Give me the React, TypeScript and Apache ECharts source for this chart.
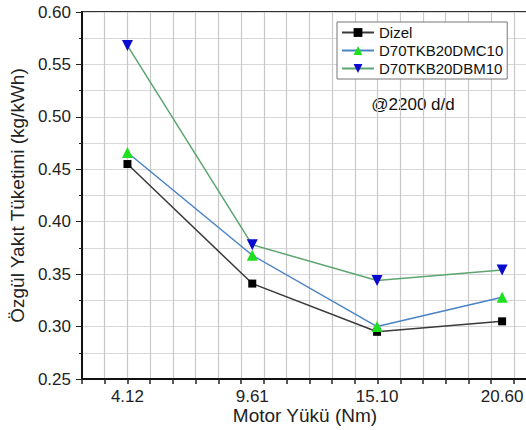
import React, { useEffect, useRef } from "react";
import * as echarts from "echarts";

const xValues = [4.12, 9.61, 15.1, 20.6];
const xTickLabels = [4.12, 9.61, 15.1, 20.6];
const seriesNames = ["Dizel", "D70TKB20DMC10", "D70TKB20DBM10"];
const dizel = [0.455, 0.341, 0.295, 0.305];
const dmc10 = [0.466, 0.368, 0.3, 0.328];
const dbm10 = [0.568, 0.378, 0.344, 0.354];

const pair = (ys: number[]) => ys.map((y, i) => [xValues[i], y]);

export default function App() {
  const ref = useRef<HTMLDivElement>(null);
  useEffect(() => {
    if (!ref.current) return;
    const chart = echarts.init(ref.current, null, { renderer: "svg" });
    const font = "Liberation Sans, Arial, sans-serif";
    chart.setOption({
      animation: false,
      backgroundColor: "#fff",
      grid: {
        left: 79,
        top: 12,
        bottom: 51,
        right: 10.6,
        show: true,
        borderColor: "#333",
        borderWidth: 2,
        backgroundColor: "transparent",
      },
      legend: {
        data: seriesNames,
        orient: "vertical",
        left: 337,
        top: 22,
        itemWidth: 32,
        itemHeight: 11,
        itemGap: 3,
        padding: [3, 4, 3, 4],
        borderColor: "#777",
        borderWidth: 1,
        backgroundColor: "#fff",
        textStyle: { fontFamily: font, fontSize: 15, color: "#111" },
      },
      xAxis: [
        {
          type: "value",
          min: 2.12,
          max: 23.12,
          axisLine: { show: true, lineStyle: { color: "#111", width: 2 } },
          axisTick: { show: false },
          axisLabel: {
            customValues: xTickLabels,
            formatter: (v: number) => v.toFixed(2),
            fontFamily: font,
            fontSize: 17,
            color: "#222",
            margin: 9,
          },
          splitLine: { show: false },
        },
        {
          type: "value",
          position: "bottom",
          min: 0,
          max: 21,
          interval: 1,
          axisLine: { show: true, lineStyle: { color: "#111", width: 2 } },
          axisTick: { show: true, length: 5, lineStyle: { color: "#222", width: 1.5 } },
          axisLabel: { show: true, formatter: () => "" },
          splitLine: { show: true, lineStyle: { color: "#c8c8c8", width: 1.2 } },
        },
      ],
      yAxis: {
        type: "value",
        min: 0.25,
        max: 0.6,
        interval: 0.05,
        name: "Özgül Yakıt Tüketimi (kg/kWh)",
        nameLocation: "middle",
        nameGap: 48,
        nameTextStyle: { fontFamily: font, fontSize: 19, color: "#222" },
        axisLine: { show: true, lineStyle: { color: "#111", width: 2 } },
        axisTick: { show: true, length: 6, lineStyle: { color: "#222" } },
        minorTick: { show: true, splitNumber: 2, length: 3, lineStyle: { color: "#222" } },
        axisLabel: {
          formatter: (v: number) => v.toFixed(2),
          fontFamily: font,
          fontSize: 17,
          color: "#222",
          margin: 11,
        },
        splitLine: { show: true, lineStyle: { color: "#d8d8d8", width: 1 } },
        minorSplitLine: { show: true, lineStyle: { color: "#d8d8d8", width: 1 } },
      },
      graphic: [
        {
          type: "text",
          x: 305,
          y: 415,
          style: {
            text: "Motor Yükü (Nm)",
            fontFamily: font,
            fontSize: 19,
            fill: "#222",
            align: "center",
            verticalAlign: "middle",
          },
        },
        {
          type: "text",
          x: 413,
          y: 104,
          style: {
            text: "@2200 d/d",
            fontFamily: font,
            fontSize: 17,
            fill: "#111",
            align: "center",
            verticalAlign: "middle",
          },
        },
      ],
      series: [
        {
          name: seriesNames[0],
          type: "line",
          data: pair(dizel),
          symbol: "rect",
          symbolSize: 8,
          lineStyle: { color: "#3a3a3a", width: 1.5 },
          itemStyle: { color: "#000" },
        },
        {
          name: seriesNames[1],
          type: "line",
          data: pair(dmc10),
          symbol: "triangle",
          symbolSize: 11,
          lineStyle: { color: "#4a82c4", width: 1.5 },
          itemStyle: { color: "#1ee01e" },
        },
        {
          name: seriesNames[2],
          type: "line",
          data: pair(dbm10),
          symbol: "triangle",
          symbolRotate: 180,
          symbolSize: 11,
          lineStyle: { color: "#5da570", width: 1.5 },
          itemStyle: { color: "#0a0ad0" },
        },
      ],
    });
    return () => chart.dispose();
  }, []);
  return (
    <div style={{ position: "fixed", left: 0, top: 0, width: 526, height: 430, overflow: "hidden", background: "#fff" }}>
      <div ref={ref} style={{ width: 570, height: 430 }} />
    </div>
  );
}
